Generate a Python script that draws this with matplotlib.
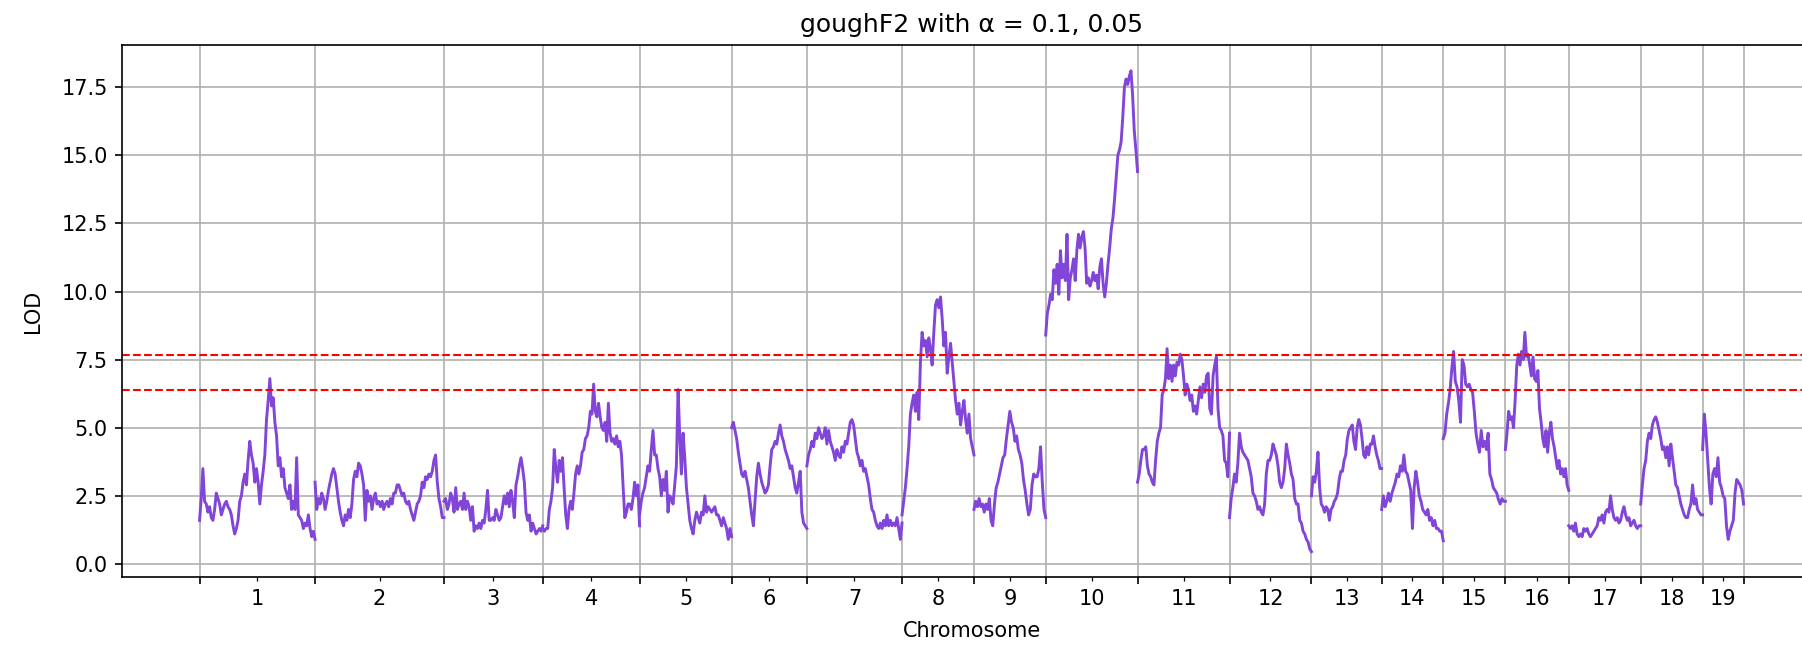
import numpy as np
import matplotlib
matplotlib.use("Agg")
import matplotlib.pyplot as plt

# chromosome lengths (cM) and labels
chrom_names = [str(i) for i in range(1, 20)]
chrom_len_cm = [105.0, 117.2, 89.8, 88.0, 83.7, 68.4, 86.5, 65.4, 65.2, 83.5,
                83.6, 74.5, 63.8, 56.0, 56.5, 57.6, 65.4, 56.3, 37.2]

# significance thresholds (alpha = 0.05, 0.1)
thresholds = [7.67, 6.39]

# LOD scores read along each chromosome (evenly spaced markers)
lod_chr1 = [1.6, 2.4, 3.5, 2.3, 2.2, 1.9, 2.1, 1.7, 1.6, 2.0, 2.6, 2.4, 2.2, 1.8, 2.0, 2.2, 2.3, 2.1,
            2.0, 1.8, 1.4, 1.1, 1.3, 1.6, 2.3, 2.5, 3.0, 3.3, 2.9, 3.8, 4.5, 4.0, 3.7, 3.0, 3.5, 3.0,
            2.2, 2.9, 3.4, 4.0, 5.3, 6.0, 6.8, 5.8, 6.1, 5.2, 4.7, 3.6, 3.9, 3.2, 3.5, 2.8, 2.6, 2.4,
            2.9, 2.0, 2.3, 2.0, 3.9, 1.8, 1.7, 1.6, 1.3, 1.5, 1.4, 1.8, 1.3, 1.0, 1.2, 0.9]
lod_chr2 = [3.0, 2.0, 2.4, 2.2, 2.6, 2.4, 2.0, 2.3, 2.7, 3.0, 3.3, 3.5, 3.3, 2.8, 2.3, 1.9, 1.6, 1.4,
            1.8, 1.6, 2.0, 1.7, 2.2, 3.1, 3.4, 3.2, 3.7, 3.6, 3.3, 2.9, 1.6, 2.7, 2.3, 2.5, 2.0, 2.4,
            2.6, 2.2, 2.3, 2.1, 2.3, 2.0, 2.2, 2.3, 2.1, 2.4, 2.2, 2.6, 2.6, 2.9, 2.9, 2.7, 2.5, 2.6,
            2.3, 2.2, 2.3, 2.0, 1.8, 1.6, 1.9, 2.2, 2.3, 2.5, 3.0, 2.8, 3.2, 3.1, 3.3, 3.2, 3.4, 3.8,
            4.0, 3.0, 2.4, 2.1, 1.7, 1.7]
lod_chr3 = [2.3, 2.4, 2.0, 2.2, 2.6, 2.4, 1.9, 2.8, 2.0, 2.2, 2.3, 2.0, 2.6, 2.0, 2.3, 2.1, 1.6, 2.1,
            1.2, 1.4, 1.3, 1.5, 1.3, 1.6, 1.5, 2.0, 2.7, 1.6, 1.6, 1.7, 1.6, 2.0, 1.8, 1.6, 1.7, 2.1,
            2.5, 2.2, 2.6, 2.1, 2.7, 2.3, 1.7, 2.9, 3.2, 3.6, 3.9, 3.5, 3.0, 1.9, 1.6, 1.8, 1.2, 1.5,
            1.3, 1.1, 1.2, 1.3, 1.2, 1.4]
lod_chr4 = [1.3, 1.2, 1.3, 1.3, 2.0, 2.3, 2.8, 4.2, 3.5, 3.0, 3.8, 3.4, 3.9, 2.8, 1.8, 1.3, 2.0, 2.3,
            2.0, 2.6, 3.3, 3.6, 3.3, 3.6, 4.1, 4.2, 4.6, 4.7, 5.0, 5.6, 5.5, 6.6, 5.6, 5.4, 5.9, 5.4,
            5.0, 4.9, 5.2, 4.5, 5.9, 4.8, 4.5, 4.6, 4.4, 4.7, 4.3, 4.5, 4.0, 2.8, 1.7, 1.9, 2.2, 2.2,
            2.0, 2.4, 3.0, 2.5, 2.9, 1.4]
lod_chr5 = [1.8, 2.3, 2.6, 2.8, 3.2, 3.6, 3.4, 4.2, 4.9, 4.0, 4.0, 3.5, 3.2, 2.5, 3.1, 2.7, 3.4, 1.9,
            2.5, 2.4, 2.2, 2.9, 3.6, 6.4, 4.7, 3.3, 4.8, 3.9, 2.8, 2.2, 1.6, 1.3, 1.1, 1.6, 1.9, 1.7,
            1.5, 1.9, 1.8, 2.5, 1.9, 2.1, 2.0, 1.9, 2.0, 2.1, 1.8, 1.8, 1.6, 1.4, 1.7, 1.5, 1.3, 0.9,
            1.3, 1.0]
lod_chr6 = [5.0, 5.2, 4.9, 4.6, 4.1, 3.7, 3.3, 3.2, 3.4, 3.1, 2.8, 2.3, 1.8, 1.4, 2.3, 3.2, 3.7, 3.3,
            3.0, 2.8, 2.6, 2.7, 2.9, 3.6, 4.2, 4.3, 4.5, 4.4, 4.8, 5.1, 4.7, 4.5, 4.2, 4.0, 3.8, 3.5,
            3.6, 3.2, 2.8, 2.6, 3.0, 3.4, 1.9, 1.5, 1.4, 1.3]
lod_chr7 = [3.6, 4.0, 4.2, 4.5, 4.3, 4.8, 4.6, 5.0, 4.8, 4.6, 4.7, 5.0, 4.4, 4.9, 4.5, 4.3, 4.1, 3.8,
            4.2, 4.0, 3.9, 4.3, 4.1, 4.5, 4.4, 4.8, 5.2, 5.3, 5.1, 4.6, 4.1, 3.9, 3.6, 3.8, 3.4, 3.5,
            3.2, 2.9, 2.4, 2.0, 1.9, 1.6, 1.4, 1.3, 1.5, 1.3, 1.6, 1.4, 1.8, 1.4, 1.6, 1.4, 1.5, 1.4,
            1.7, 1.3, 0.9, 1.5]
lod_chr8 = [1.8, 2.3, 2.8, 3.5, 4.3, 5.5, 5.9, 6.2, 5.6, 6.3, 5.3, 7.4, 8.5, 8.0, 8.2, 7.6, 8.3, 7.9,
            7.3, 8.5, 9.5, 9.7, 9.4, 9.8, 9.0, 8.0, 8.5, 7.0, 7.6, 8.1, 7.4, 6.7, 6.0, 5.5, 5.9, 5.1,
            5.6, 6.0, 5.3, 4.8, 5.5, 4.6, 4.3, 4.0]
lod_chr9 = [2.0, 2.3, 2.1, 2.4, 2.1, 2.2, 1.9, 2.2, 2.0, 2.4, 1.6, 1.4, 2.2, 2.8, 3.0, 3.3, 3.6, 3.9,
            4.0, 4.6, 5.1, 5.6, 5.2, 5.0, 4.5, 4.7, 4.2, 4.0, 3.7, 3.1, 2.7, 2.2, 1.8, 2.0, 2.9, 3.3,
            3.2, 3.2, 3.5, 4.3, 3.0, 2.0, 1.7]
lod_chr10 = [8.4, 9.2, 9.5, 9.9, 9.7, 10.8, 10.3, 11.0, 9.9, 11.5, 10.5, 11.0, 10.4, 12.1, 9.7, 10.5,
             10.8, 11.2, 10.4, 11.5, 12.1, 11.6, 12.0, 12.2, 11.6, 10.3, 10.5, 10.2, 10.4, 10.7, 10.4,
             10.6, 10.1, 10.9, 11.2, 10.3, 9.8, 10.3, 11.0, 11.6, 12.3, 12.7, 13.4, 14.2, 15.0, 15.2,
             15.5, 16.4, 17.5, 17.8, 17.6, 17.9, 18.1, 17.2, 15.9, 15.2, 14.4]
lod_chr11 = [3.0, 3.3, 3.8, 4.2, 4.2, 4.3, 3.6, 3.3, 3.2, 3.0, 2.9, 3.8, 4.5, 4.8, 5.0, 6.2, 6.4, 6.8,
             7.9, 6.8, 7.3, 6.7, 7.3, 6.9, 7.4, 7.3, 7.7, 7.5, 6.9, 6.2, 6.6, 6.4, 6.0, 6.2, 5.6, 5.8,
             5.5, 6.0, 6.5, 6.1, 6.6, 6.3, 6.9, 7.0, 5.7, 5.5, 6.9, 7.3, 7.6, 5.7, 5.0, 4.9, 4.7, 3.8,
             3.7, 3.2, 4.8]
lod_chr12 = [1.7, 2.4, 2.8, 3.3, 3.0, 3.7, 4.8, 4.3, 4.1, 4.0, 3.9, 3.8, 3.5, 3.2, 2.6, 2.5, 2.3, 2.0,
             2.1, 1.9, 1.8, 2.2, 3.3, 3.8, 3.8, 4.0, 4.4, 4.2, 4.0, 3.6, 3.0, 2.8, 3.0, 3.5, 4.4, 4.0,
             3.7, 3.3, 3.1, 2.4, 2.2, 2.2, 1.6, 1.5, 1.2, 1.1, 0.9, 0.8, 0.55, 0.45]
lod_chr13 = [2.5, 3.2, 3.0, 3.4, 4.1, 2.8, 2.2, 2.1, 1.9, 2.1, 2.0, 1.6, 2.0, 2.1, 2.3, 2.4, 2.6, 3.1,
             3.4, 3.4, 3.8, 4.0, 4.6, 4.9, 5.0, 5.1, 4.5, 4.2, 5.0, 5.3, 5.1, 4.6, 4.0, 3.9, 4.3, 4.0,
             4.4, 4.4, 4.7, 4.3, 4.0, 3.8, 3.5, 3.5]
lod_chr14 = [2.0, 2.5, 2.1, 2.3, 2.6, 2.3, 2.6, 2.8, 3.0, 3.3, 3.2, 3.6, 3.4, 4.0, 3.4, 3.3, 3.0, 2.7,
             1.3, 2.8, 3.4, 3.0, 2.5, 2.3, 2.0, 1.9, 1.8, 2.0, 1.6, 1.7, 1.4, 1.6, 1.3, 1.3, 1.2, 1.2,
             0.85]
lod_chr15 = [4.6, 4.8, 5.5, 5.9, 6.4, 7.2, 7.8, 6.7, 6.5, 6.0, 5.2, 7.5, 7.3, 6.6, 6.5, 6.6, 6.4, 6.3,
             5.6, 4.8, 4.4, 4.1, 4.9, 4.3, 4.5, 4.2, 4.8, 3.3, 3.1, 2.8, 2.7, 2.6, 2.35, 2.2, 2.4, 2.3,
             2.3]
lod_chr16 = [4.2, 4.8, 5.6, 5.3, 5.4, 5.0, 6.0, 7.3, 7.7, 7.3, 7.8, 7.5, 8.5, 7.6, 7.7, 7.3, 6.9, 7.6,
             6.8, 6.7, 7.1, 5.7, 5.2, 4.6, 4.3, 4.9, 4.1, 4.8, 5.2, 4.6, 4.3, 3.9, 3.5, 3.8, 3.3, 3.5,
             3.2, 3.5, 2.9, 2.7]
lod_chr17 = [1.4, 1.3, 1.4, 1.2, 1.5, 1.1, 1.0, 1.1, 1.0, 1.3, 1.2, 1.3, 1.1, 1.0, 1.1, 1.2, 1.3, 1.4,
             1.7, 1.6, 1.8, 1.5, 1.9, 2.0, 1.9, 2.5, 2.0, 1.7, 1.6, 1.7, 1.5, 1.6, 1.9, 2.1, 1.8, 1.6,
             1.7, 1.4, 1.5, 1.6, 1.4, 1.3, 1.4, 1.4]
lod_chr18 = [2.2, 2.9, 3.5, 3.8, 4.5, 4.8, 4.6, 5.1, 5.3, 5.4, 5.2, 4.9, 4.6, 4.2, 4.3, 3.9, 4.3, 3.6,
             4.4, 3.9, 3.4, 2.9, 2.8, 2.5, 2.2, 2.0, 1.8, 1.7, 1.7, 2.0, 2.2, 2.9, 2.2, 2.4, 2.0, 1.9,
             1.8, 1.8]
lod_chr19 = [4.2, 5.5, 4.8, 3.8, 2.8, 2.2, 3.3, 3.5, 3.2, 3.9, 3.0, 2.8, 2.5, 2.4, 1.4, 0.9, 1.2, 1.4,
             1.6, 2.6, 3.1, 3.0, 2.9, 2.7, 2.2]

lod_all = [lod_chr1, lod_chr2, lod_chr3, lod_chr4, lod_chr5, lod_chr6, lod_chr7, lod_chr8,
           lod_chr9, lod_chr10, lod_chr11, lod_chr12, lod_chr13, lod_chr14, lod_chr15, lod_chr16,
           lod_chr17, lod_chr18, lod_chr19]

starts = np.concatenate([[0.0], np.cumsum(chrom_len_cm)])
mids = starts[:-1] + np.array(chrom_len_cm) / 2
total = starts[-1]

fig = plt.figure(figsize=(1802 / 150, 645 / 150), dpi=150)
# axes runs a little past the right edge, as in the original export
ax = fig.add_axes([0.0679, 0.105, 0.9425, 0.8253])

for start, length, lod in zip(starts, chrom_len_cm, lod_all):
    x = start + np.linspace(0, length, len(lod))
    ax.plot(x, lod, color='#8145d8', lw=1.4)

for t in thresholds:
    ax.axhline(t, color='r', ls='--', lw=1)

ax.set_xticks(starts)
ax.set_xticklabels([])
ax.set_xticks(mids, minor=True)
ax.set_xticklabels(chrom_names, minor=True)
ax.grid(True)
ax.set_xlim(-0.05 * total, 1.05 * total)
ax.set_ylim(-0.49, 19.05)

ax.set_xlabel('Chromosome', labelpad=6)
ax.set_ylabel('LOD', labelpad=9)
ax.set_title('goughF2 with α = 0.1, 0.05')

fig.savefig('out.png', dpi=150)
